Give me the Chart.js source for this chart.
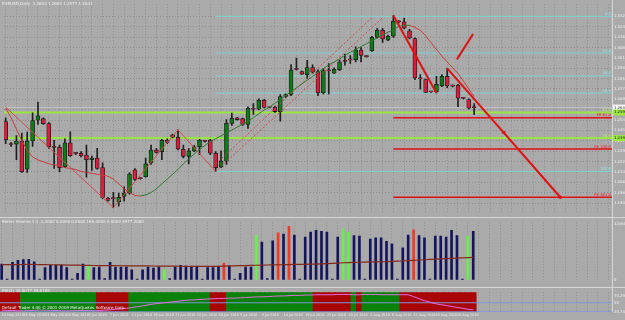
<!DOCTYPE html>
<html>
<head>
<meta charset="utf-8">
<script src="https://cdn.jsdelivr.net/npm/chart.js@4.4.1/dist/chart.umd.min.js"></script>
<style>
  html, body { margin: 0; padding: 0; background: #aaaaaa; }
  #wrap { position: relative; width: 625px; height: 320px; overflow: hidden; background: #aaaaaa; }
  canvas { position: absolute; left: 0; }
  .sep { position: absolute; background: #d6d6d6; }
</style>
</head>
<body>
<div id="wrap">
  <canvas id="priceChart" width="625" height="217" style="top:0"></canvas>
  <div class="sep" style="left:0;top:217px;width:625px;height:1px"></div>
  <canvas id="volumeChart" width="625" height="66" style="top:218px"></canvas>
  <div class="sep" style="left:0;top:287px;width:625px;height:1px"></div>
  <canvas id="rsiChart" width="625" height="32" style="top:288px"></canvas>
  <div class="sep" style="left:612px;top:0;width:1px;height:312px"></div>
</div>
<script>
// EURUSD daily, 14 May - 24 Aug 2010 (one bar per trading day, Sunday bars included)
const dateLabels = ['14 May 2010', '19 May 2010', '24 May 2010', '28 May 2010', '2 Jun 2010', '7 Jun 2010',
  '11 Jun 2010', '16 Jun 2010', '21 Jun 2010', '25 Jun 2010', '30 Jun 2010', '5 Jul 2010', '9 Jul 2010',
  '14 Jul 2010', '19 Jul 2010', '23 Jul 2010', '28 Jul 2010', '2 Aug 2010', '6 Aug 2010', '11 Aug 2010',
  '16 Aug 2010', '20 Aug 2010'];

const openPrices = [1.2525, 1.2354, 1.2352, 1.2377, 1.2162, 1.2377, 1.2535, 1.2547, 1.2509, 1.2338,
  1.2328, 1.2181, 1.2363, 1.2284, 1.2284, 1.2269, 1.2235, 1.2247, 1.2174, 1.1942,
  1.1942, 1.1913, 1.1955, 1.1979, 1.2157, 1.2092, 1.2105, 1.2210, 1.2308, 1.2296,
  1.2382, 1.2423, 1.2406, 1.2313, 1.2260, 1.2301, 1.2333, 1.2376, 1.2382, 1.2284,
  1.2179, 1.2223, 1.2511, 1.2554, 1.2547, 1.2503, 1.2621, 1.2619, 1.2687, 1.2633,
  1.2633, 1.2601, 1.2716, 1.2731, 1.2925, 1.2906, 1.2882, 1.2937, 1.2906, 1.2743,
  1.2914, 1.2894, 1.2919, 1.2984, 1.2996, 1.2996, 1.3070, 1.3021, 1.3065, 1.3167,
  1.3221, 1.3146, 1.3175, 1.3287, 1.3285, 1.3216, 1.3157, 1.2851, 1.2845, 1.2752,
  1.2752, 1.2796, 1.2869, 1.2796, 1.2801, 1.2703, 1.2692, 1.2633];
const highPrices = [1.2554, 1.2365, 1.2418, 1.2438, 1.2445, 1.2591, 1.2674, 1.2554, 1.2518, 1.2382,
  1.2345, 1.2394, 1.2447, 1.2291, 1.2296, 1.2345, 1.2262, 1.2321, 1.2210, 1.1947,
  1.1986, 1.1979, 1.2028, 1.2137, 1.2167, 1.2098, 1.2247, 1.2345, 1.2321, 1.2389,
  1.2394, 1.2430, 1.2462, 1.2345, 1.2321, 1.2343, 1.2389, 1.2379, 1.2389, 1.2296,
  1.2301, 1.2540, 1.2589, 1.2558, 1.2552, 1.2638, 1.2662, 1.2699, 1.2694, 1.2638,
  1.2643, 1.2731, 1.2736, 1.2960, 1.3009, 1.2910, 1.2992, 1.2957, 1.2919, 1.2930,
  1.2967, 1.2935, 1.2994, 1.3040, 1.3028, 1.3094, 1.3089, 1.3027, 1.3175, 1.3235,
  1.3235, 1.3184, 1.3333, 1.3294, 1.3314, 1.3228, 1.3162, 1.2882, 1.2848, 1.2756,
  1.2869, 1.2882, 1.2930, 1.2804, 1.2809, 1.2709, 1.2699, 1.2662];
const lowPrices = [1.2357, 1.2336, 1.2235, 1.2137, 1.2137, 1.2335, 1.2503, 1.2503, 1.2321, 1.2167,
  1.2143, 1.2174, 1.2260, 1.2273, 1.2255, 1.2101, 1.2152, 1.2162, 1.1938, 1.1918,
  1.1869, 1.1881, 1.1918, 1.1972, 1.2077, 1.2085, 1.2101, 1.2198, 1.2284, 1.2235,
  1.2357, 1.2401, 1.2308, 1.2247, 1.2203, 1.2295, 1.2272, 1.2368, 1.2272, 1.2145,
  1.2174, 1.2198, 1.2496, 1.2536, 1.2496, 1.2472, 1.2580, 1.2613, 1.2628, 1.2628,
  1.2594, 1.2528, 1.2709, 1.2723, 1.2919, 1.2884, 1.2853, 1.2891, 1.2723, 1.2736,
  1.2736, 1.2892, 1.2913, 1.2955, 1.2967, 1.2979, 1.2979, 1.3016, 1.3060, 1.3162,
  1.3128, 1.3141, 1.3167, 1.3276, 1.3230, 1.3155, 1.2845, 1.2772, 1.2745, 1.2747,
  1.2743, 1.2791, 1.2784, 1.2789, 1.2638, 1.2698, 1.2621, 1.2577];
const closePrices = [1.2387, 1.2350, 1.2377, 1.2143, 1.2377, 1.2533, 1.2569, 1.2509, 1.2333, 1.2328,
  1.2174, 1.2363, 1.2264, 1.2282, 1.2264, 1.2235, 1.2247, 1.2167, 1.1947, 1.1923,
  1.1938, 1.1947, 1.1979, 1.2125, 1.2084, 1.2090, 1.2203, 1.2308, 1.2289, 1.2382,
  1.2365, 1.2406, 1.2316, 1.2260, 1.2301, 1.2333, 1.2382, 1.2374, 1.2284, 1.2174,
  1.2223, 1.2511, 1.2549, 1.2540, 1.2503, 1.2626, 1.2619, 1.2687, 1.2633, 1.2632,
  1.2601, 1.2716, 1.2731, 1.2919, 1.2923, 1.2886, 1.2937, 1.2901, 1.2743, 1.2914,
  1.2911, 1.2923, 1.2979, 1.2983, 1.2995, 1.3070, 1.3029, 1.3020, 1.3167, 1.3221,
  1.3155, 1.3175, 1.3289, 1.3285, 1.3236, 1.3162, 1.2857, 1.2850, 1.2747, 1.2751,
  1.2809, 1.2869, 1.2796, 1.2795, 1.2703, 1.2702, 1.2626, 1.2631];

// smoothed average drawn over the candles (red while falling, green while rising)
const averageLine = [1.2628, 1.2555, 1.2467, 1.2379, 1.2306, 1.2255, 1.2233, 1.2218, 1.2203, 1.2196,
  1.2189, 1.2174, 1.2167, 1.2160, 1.2145, 1.2138, 1.2130, 1.2123, 1.2116, 1.2108,
  1.2086, 1.2050, 1.2013, 1.1984, 1.1962, 1.1958, 1.1966, 1.1984, 1.2013, 1.2050,
  1.2086, 1.2123, 1.2160, 1.2203, 1.2240, 1.2277, 1.2313, 1.2343, 1.2372, 1.2394,
  1.2416, 1.2438, 1.2460, 1.2482, 1.2504, 1.2526, 1.2555, 1.2584, 1.2613, 1.2635,
  1.2665, 1.2694, 1.2723, 1.2752, 1.2782, 1.2811, 1.2840, 1.2869, 1.2899, 1.2928,
  1.2957, 1.2979, 1.3001, 1.3031, 1.3053, 1.3075, 1.3097, 1.3118, 1.3140, 1.3162,
  1.3184, 1.3206, 1.3221, 1.3250, 1.3258, 1.3258, 1.3243, 1.3221, 1.3177, 1.3126,
  1.3075, 1.3024, 1.2979, 1.2935, 1.2892, 1.2833, 1.2774, 1.2716];

const priceTicks = [1.3326, 1.3247, 1.3168, 1.3089, 1.3010, 1.2931, 1.2852, 1.2773, 1.2694, 1.2615,
  1.2536, 1.2457, 1.2378, 1.2299, 1.2220, 1.2141, 1.2062, 1.1983, 1.1904];

const fibLevels = [1.3326, 1.3047, 1.2873, 1.2742, 1.2145];
const fibNames = ['0.0', '23.6', '38.2', '50.0', '100.0'];
const greenLevels = [1.2594, 1.2399];
const greenNames = ['61.8', '78.6'];
const feLevels = [1.2553, 1.2316, 1.1948];
const feNames = ['FE 61.8', 'FE 100.0', 'FE 161.8'];
const bidPrice = 1.2631;

const zigzagBars = [0, 20, 32, 39];
const zigzagPrices = [1.2635, 1.1869, 1.2462, 1.2145];
const channelLowBars = [39, 70];
const channelLowPrices = [1.2145, 1.3316];
const channelHighBars = [39, 68];
const channelHighPrices = [1.2200, 1.3316];
const trendOneBars = [72, 80];
const trendOnePrices = [1.3333, 1.2743];
const trendTwoBars = [82, 92.5, 103];
const trendTwoPrices = [1.2930, 1.2441, 1.1948];
const arrowBars = [83.8, 86.8];
const arrowPrices = [1.2999, 1.3192];

const volumes = [3510, 130, 3900, 4350, 4490, 4550, 4030, 130, 2730, 3250,
  3250, 3250, 2730, 130, 1430, 3510, 3190, 2730, 2860, 260,
  3900, 2860, 2860, 2860, 2210, 130, 2210, 2860, 2600, 2860,
  2210, 260, 2860, 3250, 3060, 2860, 2860, 130, 2730, 2730,
  2860, 3710, 3060, 130, 1430, 2860, 2860, 9880, 8450, 260,
  8710, 10530, 10200, 11960, 10010, 130, 9560, 10660, 11050, 10850,
  10660, 130, 9560, 11310, 10660, 9880, 9750, 130, 9100, 9360,
  9360, 8580, 8060, 130, 7150, 10010, 11180, 9880, 9360, 130,
  9750, 9750, 9560, 11050, 9880, 130, 9750, 10850];
const volumeAverage = [3380, 3390, 3400, 3400, 3410, 3420, 3410, 3390, 3370, 3350,
  3330, 3310, 3290, 3270, 3250, 3230, 3210, 3190, 3170, 3160,
  3150, 3140, 3130, 3120, 3110, 3100, 3090, 3080, 3070, 3060,
  3050, 3040, 3030, 3020, 3010, 3000, 2995, 2990, 2990, 2990,
  3000, 3040, 3080, 3110, 3140, 3170, 3200, 3240, 3280, 3300,
  3320, 3350, 3370, 3400, 3420, 3440, 3460, 3480, 3500, 3560,
  3620, 3680, 3740, 3800, 3850, 3880, 3920, 3950, 3980, 4000,
  4020, 4040, 4100, 4150, 4200, 4280, 4350, 4420, 4480, 4540,
  4600, 4660, 4730, 4800, 4850, 4900, 4950, 5000];
const climaxBars = [16, 30, 47, 63, 64, 86];
const churnBars = [41, 51, 53, 76];
const volumeTicks = [0, 12480];

const rsiValues = [26, 25, 25, 24, 24, 25, 25, 26, 26, 25, 25, 24, 24, 24, 25, 25, 25, 24,
  25, 26, 27, 29, 30, 32, 34, 37, 40, 43, 46, 48, 50, 52, 54, 56, 58, 59, 60, 61,
  62, 63, 64, 64, 65, 65, 66, 67, 68, 69, 69, 70, 71, 72, 72, 73, 74, 74, 75, 75, 76, 76,
  76, 76, 77, 77, 77, 76, 76, 77, 77, 77, 76, 76, 76, 76, 76,
  76, 70, 63, 57, 52, 47, 44, 41, 38, 35, 32, 29, 27];
const rsiZones = 'RRRRGGGGGGGGGGGGGGRRRRRRGGGGGGGGGGGGGGGRRRGGGGGGGGGGGGGGGGRRRRRRRGRGGGGGGGRRRRRRRRRRRRRR';
const rsiLevels = [50, 20.7444];
const rsiTicks = [70.2944, 50, 20.7444];

const X_MIN = -0.31;
const X_MAX = 112.6;
const GRID = '#8d8d8d';
const FG = '#f2f2f2';
const FONT = '"DejaVu Sans"';
const barIdx = openPrices.map((_, i) => i);
const gridBars = [];
for (let v = 0; v <= 112; v += 2) gridBars.push(v);

const pts = (xs, ys) => xs.map((x, k) => ({ x, y: ys[k] }));
const flatLine = (from, to, level) => [{ x: from, y: level }, { x: to, y: level }];

const xScale = (withLabels) => ({
  type: 'linear', min: X_MIN, max: X_MAX, offset: false, bounds: 'data',
  afterBuildTicks: (s) => { s.ticks = gridBars.map((v) => ({ value: v })); },
  afterFit: (s) => { s.height = withLabels ? 8 : 0; },
  ticks: {
    display: withLabels, autoSkip: false, maxRotation: 0, align: 'start', padding: 1,
    color: FG, font: { size: 3.4, family: FONT },
    callback: (v) => (v % 4 === 0 && dateLabels[v / 4]) || '',
  },
  grid: { color: GRID, drawTicks: false, offset: false },
  border: { display: false, dash: [1, 2] },
});

const yScale = (min, max, tickList, fmt, showGrid) => ({
  position: 'right', min, max, bounds: 'data',
  afterBuildTicks: (s) => { s.ticks = tickList.map((v) => ({ value: v })); },
  afterFit: (s) => { s.width = 13; },
  ticks: { autoSkip: false, padding: 2, color: FG, font: { size: 3.8, family: FONT }, callback: fmt },
  grid: { display: showGrid, color: GRID, drawTicks: false },
  border: { display: false, dash: [1, 2] },
});

const panelText = (lines) => ({
  id: 'panelText',
  afterDraw(chart) {
    const { ctx } = chart;
    ctx.save();
    ctx.font = '4px ' + FONT;
    ctx.textBaseline = 'top';
    ctx.textAlign = 'left';
    lines.forEach((l) => { ctx.fillStyle = l.color || FG; ctx.fillText(l.text, l.x, l.y); });
    ctx.restore();
  },
});

const levelTags = {
  id: 'levelTags',
  afterDatasetsDraw(chart) {
    const { ctx, chartArea, scales: { y } } = chart;
    ctx.save();
    ctx.font = '3.8px ' + FONT;
    ctx.textAlign = 'right';
    ctx.textBaseline = 'bottom';
    const tag = (levels, names, color) => levels.forEach((p, k) => {
      ctx.fillStyle = color;
      ctx.fillText(names[k], chartArea.right - 1, y.getPixelForValue(p) - 0.5);
    });
    tag(fibLevels, fibNames, '#8fe6e6');
    tag(greenLevels, greenNames, '#b8f060');
    tag(feLevels, feNames, '#ff1a1a');
    const box = (p, bg) => {
      const py = y.getPixelForValue(p);
      ctx.fillStyle = bg;
      ctx.fillRect(chartArea.right + 1, py - 3, 12, 6);
      ctx.fillStyle = '#202020';
      ctx.textAlign = 'left';
      ctx.textBaseline = 'middle';
      ctx.fillText(p.toFixed(5), chartArea.right + 2, py);
    };
    box(bidPrice, '#ffffff');
    greenLevels.forEach((p) => box(p, '#9be83c'));
    ctx.restore();
  },
};

const baseOptions = {
  animation: false, responsive: false, events: [],
  layout: { padding: 0 },
  plugins: { legend: { display: false }, tooltip: { enabled: false } },
};

const levelSet = (levels, from, color, width) => levels.map((p) => ({
  type: 'line', data: flatLine(from, X_MAX, p), borderColor: color, borderWidth: width,
  pointRadius: 0, order: 10,
}));

new Chart(document.getElementById('priceChart'), {
  type: 'bar',
  data: {
    datasets: [
      ...levelSet(fibLevels, 39, '#7fd3d3', 1),
      ...levelSet(greenLevels, X_MIN, '#99e640', 2),
      ...levelSet(feLevels, 72, '#dd1111', 1.5),
      ...levelSet([bidPrice], X_MIN, '#c4c4c4', 1),
      {
        type: 'bar', data: barIdx.map((i) => ({ x: i, y: [lowPrices[i], highPrices[i]] })),
        backgroundColor: '#1e1e1e', barThickness: 1, grouped: false, order: 5,
      },
      {
        type: 'bar', data: barIdx.map((i) => ({ x: i, y: [openPrices[i], closePrices[i]] })),
        backgroundColor: (c) => (closePrices[c.dataIndex] >= openPrices[c.dataIndex] ? '#0d7a18' : '#d81e3c'),
        borderColor: '#1b1b1b', borderWidth: 0.8, borderSkipped: false,
        barThickness: 4, minBarLength: 1, grouped: false, order: 4,
      },
      {
        type: 'line', data: pts(barIdx, averageLine), borderWidth: 1, pointRadius: 0, order: 2,
        segment: { borderColor: (c) => (c.p1.parsed.y >= c.p0.parsed.y ? '#2f7a2f' : '#cc3b3b') },
      },
      { type: 'line', data: pts(zigzagBars, zigzagPrices), borderColor: '#d24a4a', borderWidth: 1, pointRadius: 0, order: 2 },
      { type: 'line', data: pts(channelLowBars, channelLowPrices), borderColor: '#d24a4a', borderWidth: 1, borderDash: [2, 2], pointRadius: 0, order: 2 },
      { type: 'line', data: pts(channelHighBars, channelHighPrices), borderColor: '#d24a4a', borderWidth: 1, borderDash: [2, 2], pointRadius: 0, order: 2 },
      { type: 'line', data: pts(trendOneBars, trendOnePrices), borderColor: '#e01010', borderWidth: 2, pointRadius: 0, order: 1 },
      {
        type: 'line', data: pts(trendTwoBars, trendTwoPrices), borderColor: '#e01010', borderWidth: 2,
        pointRadius: [0, 1.8, 1.8], pointBackgroundColor: '#e01010', pointBorderWidth: 0, order: 1,
      },
      { type: 'line', data: pts(arrowBars, arrowPrices), borderColor: '#e01010', borderWidth: 2, pointRadius: 0, order: 1 },
    ],
  },
  options: {
    ...baseOptions,
    scales: {
      x: xScale(false),
      y: yScale(1.18302, 1.34186, priceTicks, (v) => v.toFixed(5), true),
    },
  },
  plugins: [levelTags, panelText([{ text: 'EURUSD,Daily  1.2633 1.2662 1.2577 1.2631', x: 2, y: 2 }])],
});

new Chart(document.getElementById('volumeChart'), {
  type: 'bar',
  data: {
    datasets: [
      { type: 'line', data: pts(barIdx, volumeAverage), borderColor: '#84281a', borderWidth: 1.2, pointRadius: 0, order: 0 },
      {
        type: 'bar', data: barIdx.map((i) => ({ x: i, y: volumes[i] })),
        backgroundColor: (c) => (climaxBars.includes(c.dataIndex) ? '#66f04a'
          : churnBars.includes(c.dataIndex) ? '#f03a2a' : '#15155e'),
        barThickness: 2, grouped: false, order: 1,
      },
    ],
  },
  options: {
    ...baseOptions,
    scales: {
      x: xScale(false),
      y: yScale(0, 12870, volumeTicks, (v) => String(v), false),
    },
  },
  plugins: [panelText([{ text: 'Better Volume 1.3  1.2000 0.0000 0.0000 165.0000 0.0000 4977.2000', x: 2, y: 2 }])],
});

new Chart(document.getElementById('rsiChart'), {
  type: 'bar',
  data: {
    datasets: [
      {
        type: 'bar', data: barIdx.map((i) => ({ x: i, y: [20, 84] })),
        backgroundColor: (c) => (rsiZones[c.dataIndex] === 'G' ? '#0a820a' : '#a80606'),
        barThickness: 6, grouped: false, order: 5,
      },
      ...rsiLevels.map((p) => ({
        type: 'line', data: flatLine(X_MIN, X_MAX, p), borderColor: '#7b95dc', borderWidth: 1, pointRadius: 0, order: 2,
      })),
      { type: 'line', data: pts(barIdx, rsiValues), borderColor: '#e46ee4', borderWidth: 1, pointRadius: 0, order: 1 },
    ],
  },
  options: {
    ...baseOptions,
    scales: {
      x: xScale(true),
      y: yScale(20, 84, rsiTicks, (v) => String(v), false),
    },
  },
  plugins: [panelText([
    { text: 'RSI(2) 30.0077 39.6108', x: 2, y: 1 },
    { text: 'Default Trader 4.00 \u00a9 2001-2009 MetaQuotes Software Corp.', x: 2, y: 18 },
  ])],
});
</script>
</body>
</html>
